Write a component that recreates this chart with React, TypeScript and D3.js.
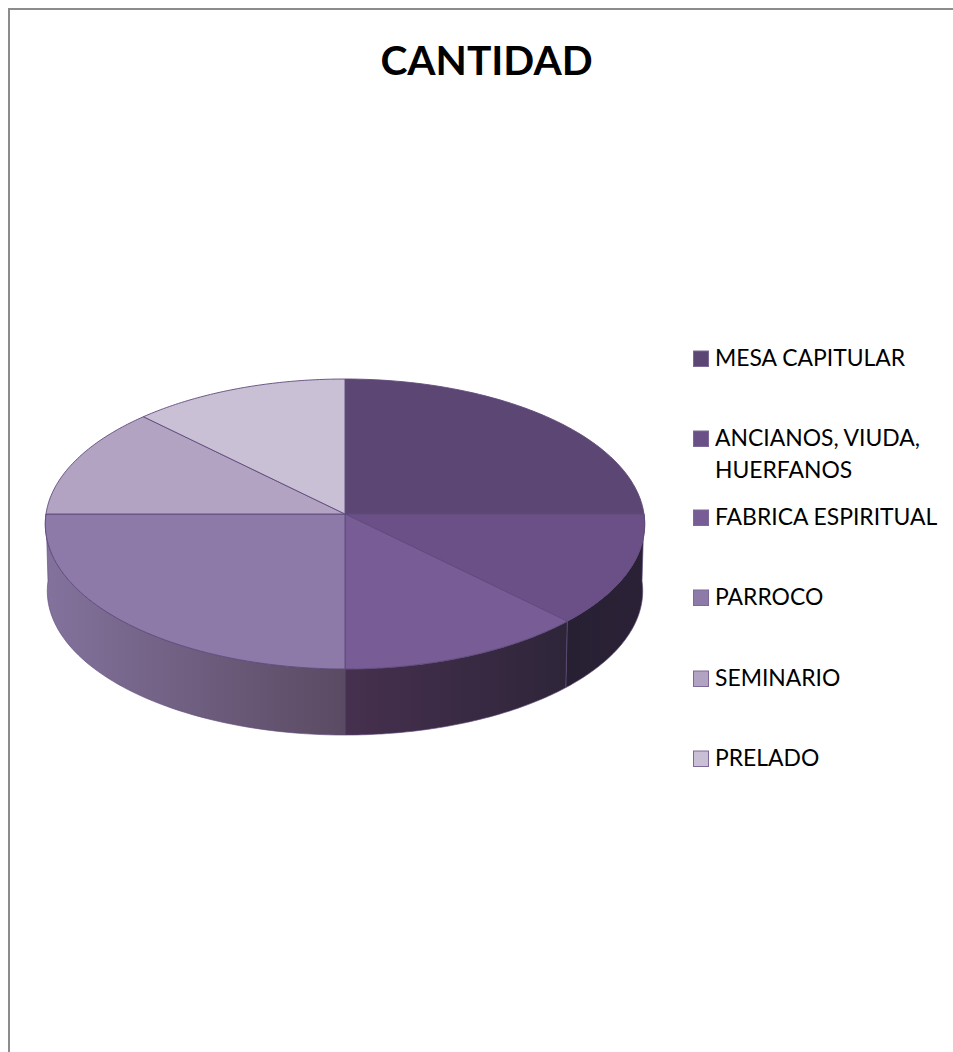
import * as d3 from 'd3';

const categories = ['MESA CAPITULAR', 'ANCIANOS, VIUDA, HUERFANOS', 'FABRICA ESPIRITUAL', 'PARROCO', 'SEMINARIO', 'PRELADO'];
const legendLines = [['MESA CAPITULAR'], ['ANCIANOS, VIUDA,', 'HUERFANOS'], ['FABRICA ESPIRITUAL'], ['PARROCO'], ['SEMINARIO'], ['PRELADO']];
const values = [2, 1, 1, 2, 1, 1];
const topColors = ['#5b4674', '#6b5088', '#775c96', '#8e7aa9', '#b1a3c1', '#c9c0d5'];
const legendY = [360, 440, 519, 599, 680, 760];
const wallStops: Record<number, [string, string]> = {
  1: ['#2b2136', '#272033'],
  2: ['#2e2539', '#46304f'],
  3: ['#5a4a62', '#83729c'],
};

const width = 953;
const height = 1052;
const cx = 345;
const cy = 514;
const k = 0.069; // perspective of the tilted disc

type Rim = { rx: number; ry: number; dy: number };
const topRim: Rim = { rx: 299, ry: 144.3, dy: 0 };
const bottomRim: Rim = { rx: 297, ry: 143.4, dy: 67 };

// angle is clockwise from 12 o'clock, as d3.pie gives it
function project(angle: number, radius: number, rim: Rim): [number, number] {
  const u = Math.sin(angle) * radius;
  const v = -Math.cos(angle) * radius;
  const s = 1 / (1 - k * v);
  return [cx + rim.rx * u * s, cy + rim.dy + rim.ry * v * s];
}

function rimPoints(a0: number, a1: number, rim: Rim) {
  const steps = 60;
  return d3.range(steps + 1).map((i) => project(a0 + ((a1 - a0) * i) / steps, 1, rim));
}

const line = d3.line();

export default function App() {
  const arcs = d3.pie<number>().sort(null)(values);

  const walls = arcs
    .map((arc, index) => ({
      index,
      a0: Math.max(arc.startAngle, Math.PI / 2),
      a1: Math.min(arc.endAngle, (Math.PI * 3) / 2),
    }))
    .filter((wall) => wall.a1 > wall.a0);

  return (
    <svg
      width={width}
      height={height}
      viewBox={`0 0 ${width} ${height}`}
      style={{ position: 'absolute', left: 0, top: 0, display: 'block', background: '#fff' }}
    >
      <defs>
        {walls.map((wall) => {
          const [xa] = project(wall.a0, 1, topRim);
          const [xb] = project(wall.a1, 1, topRim);
          const stops = wallStops[wall.index];
          return (
            <linearGradient
              key={wall.index}
              id={`wall-${wall.index}`}
              gradientUnits="userSpaceOnUse"
              x1={xa}
              x2={xb}
              y1={0}
              y2={0}
            >
              <stop offset="0" stopColor={stops[0]} />
              <stop offset="1" stopColor={stops[1]} />
            </linearGradient>
          );
        })}
      </defs>

      <path d="M9,1052V9H953" fill="none" stroke="#8c8c8c" strokeWidth={2} />

      <text
        x={486.5}
        y={75}
        textAnchor="middle"
        fontFamily="Lato, 'Open Sans', sans-serif"
        fontWeight={700}
        fontSize={40.7}
        fill="#000"
      >
        CANTIDAD
      </text>

      {walls.map((wall) => {
        const pts = [
          ...rimPoints(wall.a0, wall.a1, topRim),
          ...rimPoints(wall.a0, wall.a1, bottomRim).reverse(),
        ] as [number, number][];
        return (
          <path
            key={wall.index}
            d={`${line(pts)}Z`}
            fill={`url(#wall-${wall.index})`}
            stroke="#5f4a7c"
            strokeWidth={0.8}
            strokeOpacity={0.8}
          />
        );
      })}

      {arcs.map((arc, index) => {
        const pts = [[cx, cy], ...rimPoints(arc.startAngle, arc.endAngle, topRim)] as [number, number][];
        return (
          <path
            key={categories[index]}
            d={`${line(pts)}Z`}
            fill={topColors[index]}
            stroke="#5f4a7c"
            strokeWidth={0.9}
            strokeLinejoin="round"
          />
        );
      })}

      {categories.map((name, index) => (
        <g key={name}>
          <rect
            x={693.5}
            y={legendY[index] - 9}
            width={15}
            height={15.5}
            fill={topColors[index]}
            stroke="#7d6a98"
            strokeWidth={1}
          />
          <text fontFamily="Lato, 'Open Sans', sans-serif" fontSize={22.9} fill="#000">
            {legendLines[index].map((text, lineIndex) => (
              <tspan key={text} x={715} y={legendY[index] + 6 + lineIndex * 32}>
                {text}
              </tspan>
            ))}
          </text>
        </g>
      ))}
    </svg>
  );
}
